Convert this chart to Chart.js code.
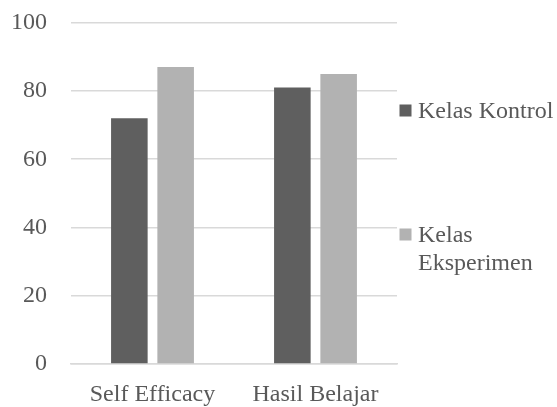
<!DOCTYPE html>
<html>
<head>
<meta charset="utf-8">
<script src="https://cdn.jsdelivr.net/npm/chart.js@4/dist/chart.umd.min.js"></script>
<style>
html,body{margin:0;padding:0;background:#fff;}
#wrap{width:557px;height:407px;position:relative;}
</style>
</head>
<body>
<div id="wrap"><canvas id="c" width="557" height="407"></canvas></div>
<script>
const categories = ['Self Efficacy', 'Hasil Belajar'];
const seriesNames = ['Kelas Kontrol', 'Kelas Eksperimen'];
const kelasKontrol = [72, 81];
const kelasEksperimen = [87, 85];
const yTicks = [0, 20, 40, 60, 80, 100];

const FONT = '"Liberation Serif", "DejaVu Serif", serif';
const FSIZE = 24;
const TEXT = '#595959';
const colors = ['#5f5f5f', '#b2b2b2'];

const legendPlugin = {
  id: 'sideLegend',
  afterDraw(chart) {
    const ctx = chart.ctx;
    const area = chart.chartArea;
    ctx.save();
    ctx.font = FSIZE + 'px ' + FONT;
    ctx.textBaseline = 'alphabetic';
    const boxX = area.right + 2.5;
    const textX = area.right + 21;
    const maxW = 557 - textX;
    const baselines = [117.5, 241.5];
    chart.data.datasets.forEach((ds, i) => {
      const words = ds.label.split(' ');
      const lines = [];
      let cur = '';
      words.forEach(w => {
        const t = cur ? cur + ' ' + w : w;
        if (cur && ctx.measureText(t).width > maxW + 2) { lines.push(cur); cur = w; }
        else cur = t;
      });
      if (cur) lines.push(cur);
      ctx.fillStyle = ds.backgroundColor;
      ctx.fillRect(boxX, baselines[i] - 13, 12, 12);
      ctx.fillStyle = TEXT;
      lines.forEach((ln, k) => {
        ctx.fillText(ln, textX, baselines[i] + k * 28);
      });
    });
    ctx.restore();
  }
};

new Chart(document.getElementById('c'), {
  type: 'bar',
  data: {
    labels: categories,
    datasets: [
      { label: seriesNames[0], data: kelasKontrol, backgroundColor: colors[0] },
      { label: seriesNames[1], data: kelasEksperimen, backgroundColor: colors[1] }
    ]
  },
  plugins: [legendPlugin],
  options: {
    responsive: false,
    animation: false,
    devicePixelRatio: 1,
    layout: { padding: { top: 22.7, right: 160, left: 0, bottom: 0 } },
    plugins: { legend: { display: false }, tooltip: { enabled: false } },
    datasets: { bar: { categoryPercentage: 0.568, barPercentage: 0.79 } },
    scales: {
      x: {
        grid: { display: false, drawTicks: false },
        border: { display: true, color: '#d9d9d9', width: 1.5 },
        ticks: { color: TEXT, font: { family: FONT, size: FSIZE }, padding: 16, maxRotation: 0 },
        afterFit(s) { s.height = 43; s.paddingLeft = 0; s.paddingRight = 0; }
      },
      y: {
        min: 0, max: 100,
        afterBuildTicks(s) { s.ticks = yTicks.map(v => ({ value: v })); },
        grid: { color: '#d9d9d9', lineWidth: 1.5, drawTicks: false },
        border: { display: false },
        ticks: { color: TEXT, font: { family: FONT, size: FSIZE }, padding: 24 },
        afterFit(s) { s.width = 71; s.paddingTop = 0; s.paddingBottom = 0; }
      }
    }
  }
});
</script>
</body>
</html>
